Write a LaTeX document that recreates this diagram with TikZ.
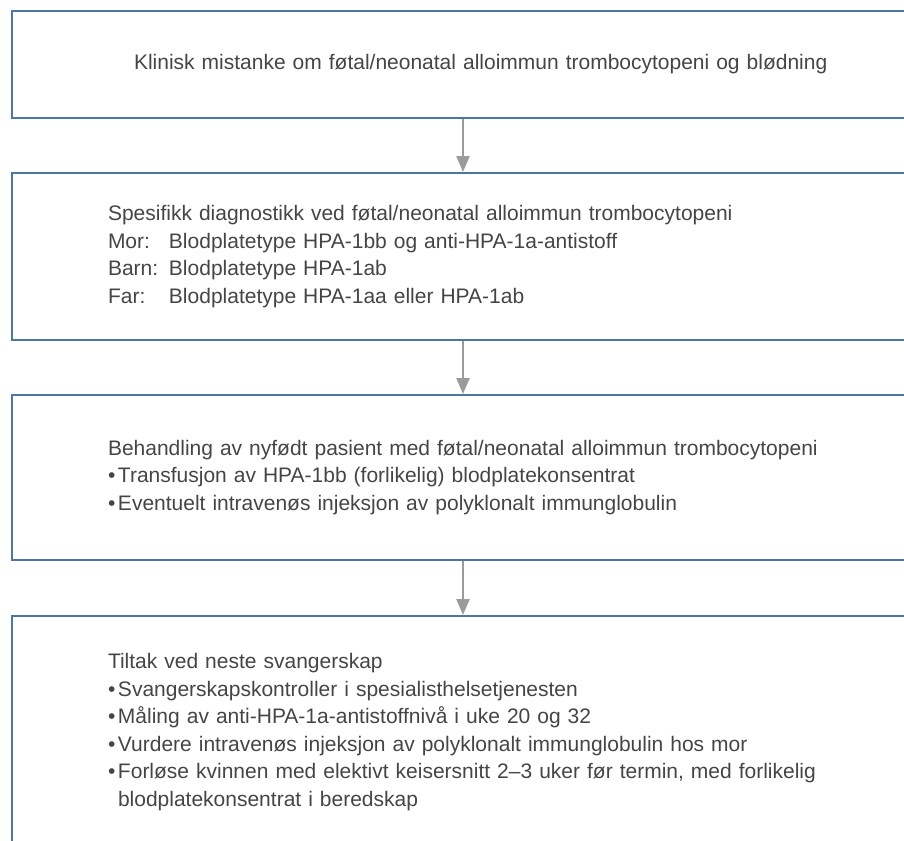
\documentclass[tikz,border=0pt]{standalone}
\usepackage{fontspec}
\setmainfont{Liberation Sans}
\usepackage{tikz}
\usetikzlibrary{arrows.meta}
\definecolor{boxblue}{HTML}{4A77A8}
\definecolor{arrgray}{HTML}{9B9B9B}
\definecolor{txtgray}{HTML}{454545}
\tikzset{
  flowbox/.style = {draw=boxblue,line width=2pt,anchor=north west,align=left,
                    text width=800pt,inner xsep=96pt,inner ysep=0pt,text=txtgray,
                    font=\fontsize{21}{27.5}\selectfont},
  flowarr/.style = {-{Triangle[length=16pt,width=13pt]},arrgray,line width=2.4pt}
}
\newcommand{\blt}[1]{\makebox[10pt][l]{•}#1}
\newcommand{\who}[1]{\makebox[61pt][l]{#1}}

\begin{document}
\begin{tikzpicture}[x=1pt,y=-1pt]
  \useasboundingbox (0,0) rectangle (904,840);
  \clip (0,0) rectangle (904,840);
  \coordinate (mid) at (463,0);
  \node[flowbox,inner xsep=122pt,minimum height=107pt] (mistanke) at (11,10)
    {Klinisk mistanke om føtal/neonatal alloimmun trombocytopeni og blødning};
  \node[flowbox,minimum height=167pt] (diagnostikk) at (11,172)
    {Spesifikk diagnostikk ved føtal/neonatal alloimmun trombocytopeni\\
     \who{Mor:}Blodplatetype HPA-1bb og anti-HPA-1a-antistoff\\
     \who{Barn:}Blodplatetype HPA-1ab\\
     \who{Far:}Blodplatetype HPA-1aa eller HPA-1ab};
  \node[flowbox,minimum height=165pt] (behandling) at (11,394)
    {Behandling av nyfødt pasient med føtal/neonatal alloimmun trombocytopeni\\
     \blt{Transfusjon av HPA-1bb (forlikelig) blodplatekonsentrat}\\
     \blt{Eventuelt intravenøs injeksjon av polyklonalt immunglobulin}};
  \node[flowbox,minimum height=232pt] (tiltak) at (11,615)
    {Tiltak ved neste svangerskap\\
     \blt{Svangerskapskontroller i spesialisthelsetjenesten}\\
     \blt{Måling av anti-HPA-1a-antistoffnivå i uke 20 og 32}\\
     \blt{Vurdere intravenøs injeksjon av polyklonalt immunglobulin hos mor}\\
     \blt{Forløse kvinnen med elektivt keisersnitt 2–3 uker før termin, med forlikelig}\\
     \hspace*{10pt}blodplatekonsentrat i beredskap};
  \draw[flowarr] (mistanke.south -| mid) -- (diagnostikk.north -| mid);
  \draw[flowarr] (diagnostikk.south -| mid) -- (behandling.north -| mid);
  \draw[flowarr] (behandling.south -| mid) -- (tiltak.north -| mid);
\end{tikzpicture}
\end{document}
